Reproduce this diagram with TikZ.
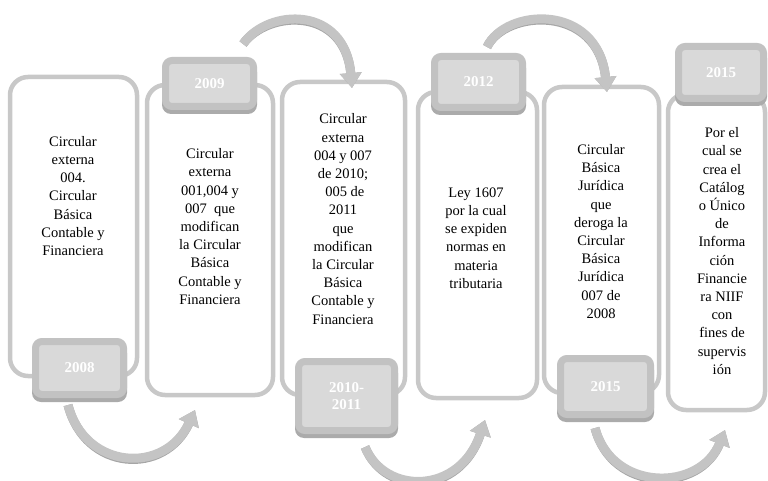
\documentclass[tikz,border=0pt]{standalone}
\usepackage{fontspec}
\setmainfont{Liberation Serif}
\usetikzlibrary{arrows.meta}
\definecolor{boxgray}{HTML}{C8C8C8}
\definecolor{lblring}{HTML}{C2C2C2}
\definecolor{lblfill}{HTML}{D9D9D9}
\definecolor{lblshadow}{HTML}{ABABAB}
\definecolor{arrgray}{HTML}{C4C4C4}
\definecolor{arrdark}{HTML}{A6A6A6}
\begin{document}
\begin{tikzpicture}[x=1pt,y=-1pt,
  tbox/.style={draw=boxgray, line width=4.5pt, rounded corners=18pt, inner sep=0pt, outer sep=0pt},
  txt/.style={align=center, font=\fontsize{14.5}{18.2}\selectfont, inner sep=0pt, text=black},
  lbl/.style={draw=lblring, fill=lblfill, line width=7pt, rounded corners=6.5pt, inner sep=0pt, outer sep=0pt,
    font=\fontsize{15}{17}\selectfont\bfseries, text=white, align=center},
  lblsh/.style={fill=lblshadow, rounded corners=9pt},
  arr/.style={line width=9pt, draw=arrgray, -{Triangle[width=21pt,length=15pt]}},
  arrsh/.style={line width=9pt, draw=arrdark, -{Triangle[width=21pt,length=15pt]}, yshift=-1.6pt}
]
\useasboundingbox (0,0) rectangle (768,481);

% content boxes
\node[tbox, minimum width=127pt, minimum height=299pt] (b1) at (73.5,226.5) {};
\node[tbox, minimum width=126pt, minimum height=310pt] (b2) at (210,240) {};
\node[tbox, minimum width=123pt, minimum height=313pt] (b3) at (343.5,238.5) {};
\node[tbox, minimum width=119pt, minimum height=306pt] (b4) at (477.5,245) {};
\node[tbox, minimum width=115pt, minimum height=306pt] (b5) at (601.5,240) {};
\node[tbox, minimum width=97pt, minimum height=316pt] (b6) at (716.5,252) {};

% texts
\node[txt] (t1) at (73,196) {Circular\\externa\\004.\\Circular\\Básica\\Contable y\\Financiera};
\node[txt] (t2) at (210,226.5) {Circular\\externa\\001,004 y\\007~~que\\modifican\\la Circular\\Básica\\Contable y\\Financiera};
\node[txt] (t3) at (343,219) {Circular\\externa\\004 y 007\\de 2010;\\\ 005 de\\2011\\que\\modifican\\la Circular\\Básica\\Contable y\\Financiera};
\node[txt] (t4) at (476,238) {Ley 1607\\por la cual\\se expiden\\normas en\\materia\\tributaria};
\node[txt] (t5) at (601,231.5) {Circular\\Básica\\Jurídica\\que\\deroga la\\Circular\\Básica\\Jurídica\\007 de\\2008};
\node[txt] (t6) at (722,251) {Por el\\cual se\\crea el\\Catálog\\o Único\\de\\Informa\\ción\\Financie\\ra NIIF\\con\\fines de\\supervis\\ión};

% year labels
\fill[lblsh] (32,344) rectangle (127,402);
\node[lbl, minimum width=88pt, minimum height=53pt] (l1) at (79.5,368) {2008};
\fill[lblsh] (162,63) rectangle (257,114);
\node[lbl, minimum width=88pt, minimum height=46pt] (l2) at (209.5,83.5) {2009};
\fill[lblsh] (295,364) rectangle (398,438);
\node[lbl, minimum width=96pt, minimum height=69pt] (l3) at (346.5,396) {2010-\\2011};
\fill[lblsh] (431,59) rectangle (526,115);
\node[lbl, minimum width=88pt, minimum height=51pt] (l4) at (478.5,82) {2012};
\fill[lblsh] (557,361) rectangle (654,422);
\node[lbl, minimum width=90pt, minimum height=56pt] (l5) at (605.5,386.5) {2015};
\fill[lblsh] (675,49) rectangle (767,106);
\node[lbl, minimum width=85pt, minimum height=52pt] (l6) at (721,72.5) {2015};

% arrow end points
\coordinate (a1s) at (243,44);  \coordinate (a1e) at (352,88);
\coordinate (a2s) at (487,47);  \coordinate (a2e) at (607,92);
\coordinate (b1s) at (68,405);  \coordinate (b1e) at (195,410);
\coordinate (b2s) at (365,447); \coordinate (b2e) at (485,420);
\coordinate (b3s) at (595,428); \coordinate (b3e) at (725,430);

% arrows
\foreach \s/\e/\ca/\cb in {a1s/a1e/{(268,8)}/{(345,5)}, a2s/a2e/{(505,8)}/{(598,2)},
  b1s/b1e/{(85,470)}/{(165,475)}, b2s/b2e/{(385,495)}/{(460,495)}, b3s/b3e/{(612,492)}/{(700,492)}}{
  \draw[arrsh] (\s) .. controls \ca and \cb .. (\e);
  \draw[arr] (\s) .. controls \ca and \cb .. (\e);
}
\end{tikzpicture}
\end{document}
